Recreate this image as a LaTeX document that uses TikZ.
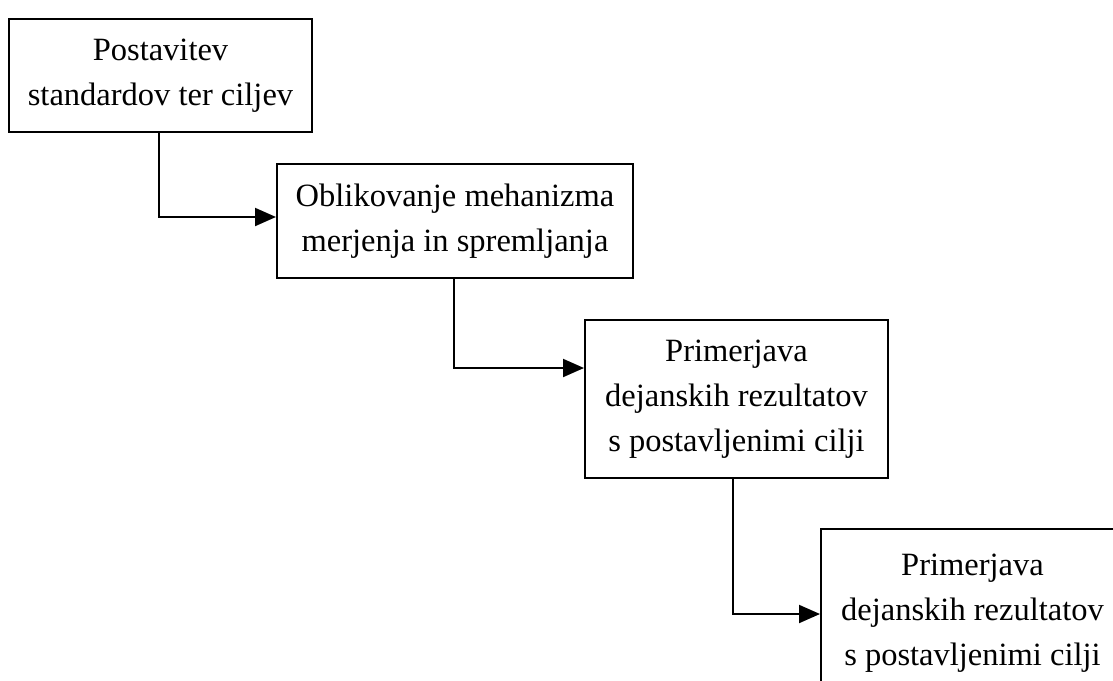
\documentclass[tikz,border=0pt]{standalone}
\usepackage{fontspec}
\setmainfont{Liberation Serif}
\usetikzlibrary{arrows.meta}
\begin{document}
\begin{tikzpicture}[x=1pt,y=-1pt,
  box/.style={draw, line width=2pt, rectangle, anchor=north west, align=center,
    inner sep=0pt, font=\fontsize{32.5}{45}\selectfont},
  arr/.style={line width=2pt, -{Triangle[length=21pt,width=18pt]}}]
\clip (0,0) rectangle (1113,680);
\fill[white] (0,0) rectangle (1113,680);
\node[box, minimum width=303pt, minimum height=113pt] (b1) at (8,18)
  {Postavitev\\standardov ter ciljev};
\node[box, minimum width=356pt, minimum height=114pt] (b2) at (276,163)
  {Oblikovanje mehanizma\\merjenja in spremljanja};
\node[box, minimum width=303pt, minimum height=158pt] (b3) at (584,319)
  {Primerjava\\dejanskih rezultatov\\s postavljenimi cilji};
\node[box, minimum width=303pt, minimum height=168pt] (b4) at (820,528)
  {Primerjava\\dejanskih rezultatov\\s postavljenimi cilji};
\draw[arr] ([xshift=-2pt]b1.south) |- ([yshift=4pt]b2.west);
\draw[arr] ([xshift=-1pt]b2.south) |- ([yshift=31pt]b3.west);
\draw[arr] ([xshift=-4pt]b3.south) |- ([yshift=-1pt]b4.west);
\end{tikzpicture}
\end{document}
